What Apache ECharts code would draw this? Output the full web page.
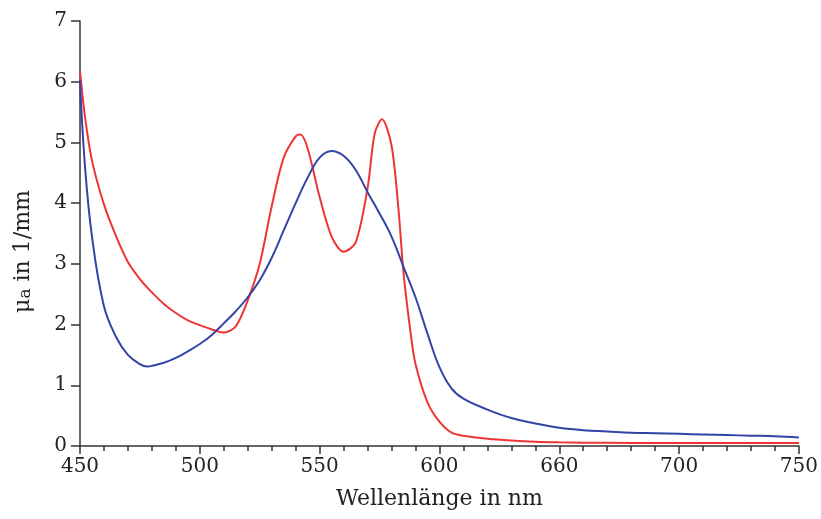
<!DOCTYPE html>
<html><head><meta charset="utf-8">
<script src="https://cdn.jsdelivr.net/npm/echarts@6/dist/echarts.min.js"></script>
<style>html,body{margin:0;padding:0;background:#fff}#c{width:821px;height:519px}</style>
</head><body><div id="c"></div>
<script>
const xTickLabels = {450:'450',500:'500',550:'550',600:'600',650:'660',700:'700',750:'750'};
const redX = [450,452,455,460,465,470,475,480,485,490,495,500,505,510,515,520,525,530,535,540,542,545,550,555,560,565,570,573,576,580,583,585,588,590,595,600,605,610,620,630,640,650,660,680,700,720,750];
const redY = [6.18,5.45,4.70,3.98,3.46,3.03,2.75,2.53,2.34,2.19,2.07,1.99,1.92,1.87,1.97,2.40,3.00,3.95,4.75,5.10,5.13,4.90,4.10,3.45,3.20,3.35,4.25,5.15,5.38,4.95,3.85,2.85,1.85,1.35,0.72,0.40,0.22,0.17,0.12,0.09,0.07,0.06,0.055,0.05,0.05,0.05,0.05];
const blueX = [450,452,455,460,465,470,475,478,480,485,490,495,500,505,510,515,520,525,530,535,540,545,550,555,560,565,570,575,580,585,590,595,600,605,610,620,630,640,650,660,670,680,690,700,710,720,730,740,750];
const blueY = [6.02,4.65,3.45,2.30,1.80,1.50,1.35,1.31,1.32,1.37,1.45,1.56,1.68,1.83,2.02,2.22,2.45,2.73,3.10,3.55,4.00,4.42,4.75,4.86,4.78,4.55,4.18,3.83,3.45,2.95,2.45,1.85,1.30,0.95,0.78,0.60,0.46,0.37,0.30,0.26,0.24,0.22,0.21,0.20,0.19,0.18,0.17,0.16,0.14];
const zip = (a,b) => a.map((v,i)=>[v,b[i]]);
const font = 'DejaVu Serif';
const axisCol = '#333';
const chart = echarts.init(document.getElementById('c'));
chart.setOption({
  animation:false,
  grid:{left:80,right:21,top:21,bottom:73},
  xAxis:{type:'value',min:450,max:750,interval:50,
    name:'Wellenlänge in nm',nameLocation:'middle',nameGap:42,
    nameTextStyle:{fontFamily:font,fontSize:22,color:'#222'},
    axisLine:{lineStyle:{color:axisCol,width:1.5}},
    axisTick:{length:8,lineStyle:{color:axisCol,width:1.5}},
    minorTick:{show:true,splitNumber:5,length:5,lineStyle:{color:axisCol,width:1.5}},
    splitLine:{show:false},
    axisLabel:{fontFamily:font,fontSize:20,color:'#222',margin:11,formatter:v=>xTickLabels[v]||''}},
  yAxis:{type:'value',min:0,max:7,interval:1,
    name:'{m|μ}{s|a}{n| in 1/mm}',nameLocation:'middle',nameGap:46,
    nameTextStyle:{fontFamily:font,fontSize:22,color:'#222',padding:[0,36,0,0],
      rich:{m:{fontFamily:font,fontSize:22,color:'#222'},s:{fontFamily:font,fontSize:17,color:'#222',verticalAlign:'bottom'},n:{fontFamily:font,fontSize:22,color:'#222'}}},
    axisLine:{show:true,lineStyle:{color:axisCol,width:1.5}},
    axisTick:{show:true,length:9,lineStyle:{color:axisCol,width:1.5}},
    splitLine:{show:false},
    axisLabel:{fontFamily:font,fontSize:20,color:'#222',margin:13}},
  series:[
    {type:'line',data:zip(redX,redY),showSymbol:false,smooth:0.3,lineStyle:{color:'#ee3535',width:2},z:2},
    {type:'line',data:zip(blueX,blueY),showSymbol:false,smooth:0.4,lineStyle:{color:'#3344a6',width:2},z:3}
  ]
});
</script></body></html>
